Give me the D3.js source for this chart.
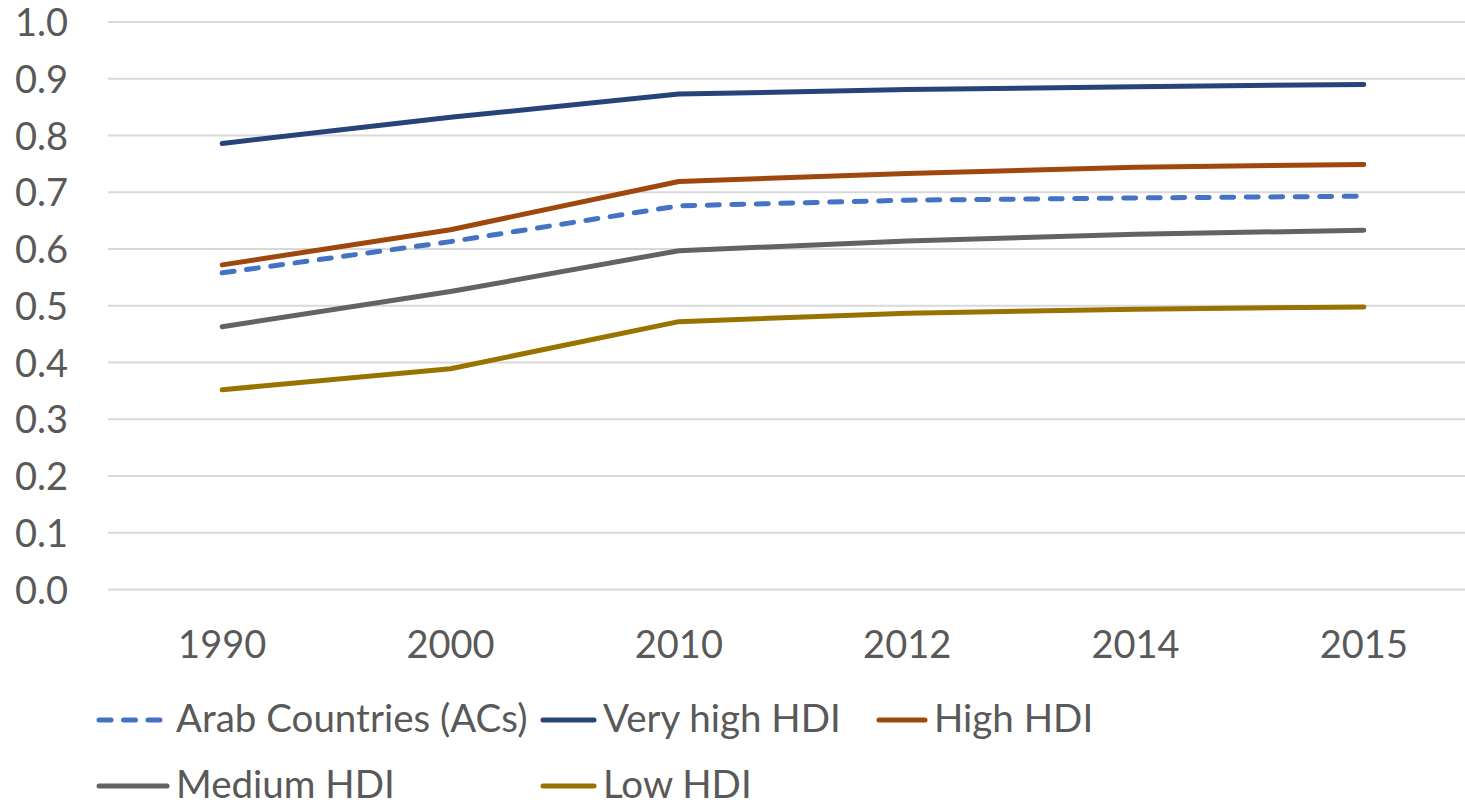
<!DOCTYPE html>
<html>
<head>
<meta charset="utf-8">
<script src="https://cdn.jsdelivr.net/npm/d3@7"></script>
<style>
  html, body { margin: 0; padding: 0; background: #fff; }
  svg { display: block; }
  text { font-family: Lato, "Open Sans", sans-serif; fill: #595959; }
</style>
</head>
<body>
<svg id="chart" width="1465" height="804"></svg>
<script>
// HDI trends by group
const years = ["1990", "2000", "2010", "2012", "2014", "2015"];
const yTicks = [0.0, 0.1, 0.2, 0.3, 0.4, 0.5, 0.6, 0.7, 0.8, 0.9, 1.0];

const arabCountries = [0.558, 0.613, 0.676, 0.686, 0.690, 0.693];
const veryHighHDI   = [0.786, 0.832, 0.873, 0.881, 0.886, 0.890];
const highHDI       = [0.572, 0.634, 0.719, 0.733, 0.744, 0.749];
const mediumHDI     = [0.463, 0.525, 0.597, 0.614, 0.626, 0.633];
const lowHDI        = [0.352, 0.389, 0.472, 0.487, 0.494, 0.498];

const seriesNames = ["Arab Countries (ACs)", "Very high HDI", "High HDI", "Medium HDI", "Low HDI"];
const seriesValues = [arabCountries, veryHighHDI, highHDI, mediumHDI, lowHDI];
const seriesColors = ["#4472C4", "#264478", "#9E480E", "#636363", "#997300"];
const seriesDashed = [true, false, false, false, false];

const svg = d3.select("#chart");

const x = d3.scaleBand().domain(years).range([108, 1478]);
const y = d3.scaleLinear().domain([0, 1]).range([589.5, 22]);

// horizontal gridlines
svg.append("g")
  .selectAll("line")
  .data(yTicks)
  .join("line")
  .attr("x1", 108).attr("x2", 1465)
  .attr("y1", d => y(d)).attr("y2", d => y(d))
  .attr("stroke", "#d9d9d9").attr("stroke-width", 2);

// y axis labels
const yAxis = d3.axisLeft(y).tickValues(yTicks).tickFormat(d3.format(".1f")).tickSize(0).tickPadding(0);
const gy = svg.append("g").attr("transform", "translate(68,0)").call(yAxis);
gy.select(".domain").remove();
gy.selectAll("text")
  .attr("font-size", 38).attr("fill", "#595959")
  .attr("font-family", "Lato, 'Open Sans', sans-serif")
  .attr("dy", "0.36em");

// x axis labels
const xAxis = d3.axisBottom(x).tickSize(0).tickPadding(0);
const gx = svg.append("g").attr("transform", "translate(0,658)").call(xAxis);
gx.select(".domain").remove();
gx.selectAll("text")
  .attr("font-size", 38).attr("fill", "#595959")
  .attr("font-family", "Lato, 'Open Sans', sans-serif")
  .attr("dy", 0);

// series lines
const line = d3.line()
  .x((d, i) => x(years[i]) + x.bandwidth() / 2)
  .y(d => y(d));

svg.append("g")
  .selectAll("path")
  .data(seriesValues.map((v, i) => ({ v, i })))
  .join("path")
  .attr("d", d => line(d.v))
  .attr("fill", "none")
  .attr("stroke", d => seriesColors[d.i])
  .attr("stroke-width", 5)
  .attr("stroke-linecap", "round")
  .attr("stroke-linejoin", "round")
  .attr("stroke-dasharray", d => seriesDashed[d.i] ? "12 12.5" : null);

// legend (two rows, three columns); each swatch runs from its column start to just before its label
const legendSwatchX = [99, 543, 879];
const legendTextX = [176, 603, 934];
const legendRowY = [720, 786];
const legend = svg.append("g")
  .selectAll("g")
  .data(seriesNames.map((name, i) => ({ name, i })))
  .join("g")
  .attr("transform", d => `translate(${legendTextX[d.i % 3]},${legendRowY[Math.floor(d.i / 3)]})`);

legend.append("line")
  .attr("x1", d => legendSwatchX[d.i % 3] - legendTextX[d.i % 3])
  .attr("x2", d => seriesDashed[d.i] ? -14 : -9)
  .attr("y1", 0).attr("y2", 0)
  .attr("stroke", d => seriesColors[d.i])
  .attr("stroke-width", 5)
  .attr("stroke-linecap", "round")
  .attr("stroke-dasharray", d => seriesDashed[d.i] ? "12 12.5" : null);

legend.append("text")
  .attr("x", 0)
  .attr("y", 12)
  .attr("font-size", 38.5)
  .text(d => d.name);
</script>
</body>
</html>
